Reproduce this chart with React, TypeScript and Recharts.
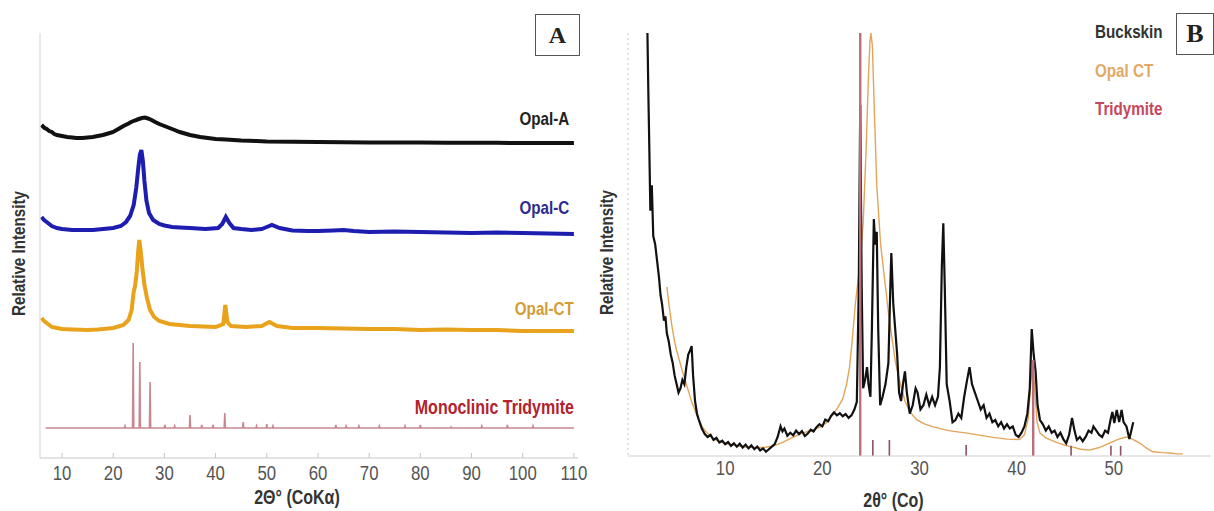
import React from 'react';
import { LineChart, Line, XAxis, YAxis } from 'recharts';

// ---------- Panel A data (2θ°, relative intensity above each pattern's baseline) ----------
const ticksA = [10, 20, 30, 40, 50, 60, 70, 80, 90, 100, 110];
const offsetsA = { opalA: 315, opalC: 225, opalCT: 128, tridymite: 30 };

const opalA: [number, number][] = [
  [6, 18], [6.6, 15], [7, 14], [7.5, 12], [8, 11], [8.5, 9], [9, 8], [10, 7], [11, 6], [12, 5.5], [12.8, 5],
  [14, 5], [15, 5.5], [16, 6], [17, 7], [18, 8], [19, 9.5], [20, 11], [21, 14], [22, 17], [23, 19.5],
  [23.5, 21], [24.2, 22.5], [25, 24], [25.6, 25], [26.2, 25.5], [26.8, 24.5], [27.5, 23], [28.2, 21],
  [29, 19], [30, 17], [31, 15], [32, 13], [33, 11], [34, 9.5], [35, 8], [36, 7], [37, 6], [38.5, 5],
  [40, 4], [42, 3.5], [45, 2.5], [48, 2], [50, 1.5], [55, 1.2], [60, 1], [65, 0.8], [70, 0.5],
  [75, 0.6], [80, 0.5], [85, 0.3], [90, 0.2], [95, 0.2], [100, 0], [105, 0], [110, 0],
];

const opalC: [number, number][] = [
  [6, 16], [6.5, 13], [7, 11], [7.5, 9], [8, 7], [9, 5], [10, 4], [12, 3], [14, 3], [16, 3], [18, 4],
  [20, 5], [21.5, 7], [22.5, 11], [23.3, 17], [24.0, 28], [24.5, 45], [24.9, 65], [25.2, 78],
  [25.5, 83], [25.8, 72], [26.1, 52], [26.5, 32], [27, 20], [27.8, 13], [29, 9], [30, 7.5], [31.5, 6],
  [33, 5.5], [35, 5], [38, 4], [40.5, 5], [41.3, 9], [42, 16], [42.7, 10], [43.5, 5], [45, 4], [47, 3],
  [49, 4], [50, 6], [51, 8], [52.5, 5], [55, 2.5], [58, 2], [60, 2], [63, 2.5], [65, 3], [67, 2],
  [70, 1], [75, 1.5], [80, 1], [85, 0.5], [90, 0], [95, 0.5], [100, 0], [105, -0.5], [110, -1],
];

const opalCT: [number, number][] = [
  [6, 12], [6.5, 9], [7, 7], [7.5, 5], [8, 3], [9, 2], [10, 1], [12, 0.5], [15, 0], [17, 0.5], [20, 2],
  [22, 5], [23, 10], [23.6, 20], [24.0, 38], [24.3, 45], [24.6, 58], [24.9, 80], [25.1, 90],
  [25.35, 80], [25.7, 62], [26.1, 45], [26.6, 32], [27.2, 20], [28, 13], [29, 9], [31, 6], [35, 4],
  [40, 3], [41.5, 6], [41.9, 25], [42.3, 8], [43, 4], [46, 3], [49, 4], [50.5, 8], [52, 4],
  [55, 2], [60, 2], [65, 1.5], [70, 1], [75, 1], [80, 0], [85, 0.5], [90, 0], [95, 0], [100, -1],
  [105, -1], [110, -1],
];

const triARange: [number, number] = [6.8, 110];
const triAPos = [22.3, 23.9, 25.2, 27.2, 30.1, 32.0, 35.0, 37.3, 39.5, 41.8, 45.4, 48.0, 50.0, 51.2,
  63.5, 65.5, 68.0, 72.0, 77.0, 80.0, 86.0, 92.0, 97.0, 102.0];
const triAHeight = [2, 85, 66, 46, 3, 2, 13, 3, 3, 15, 6, 2, 4, 2, 3, 2, 2, 2, 2, 3, 1, 2, 3, 2];

// ---------- Panel B data (2θ°, relative intensity %) ----------
const ticksB = [10, 20, 30, 40, 50];

const buckskin: [number, number][] = [
  [2.0, 100], [2.1, 85], [2.2, 72], [2.3, 58], [2.45, 64], [2.6, 52], [2.8, 50], [3.0, 46], [3.2, 42], [3.35, 38],
  [3.5, 36], [3.7, 32], [3.85, 33], [4.0, 29], [4.2, 27], [4.4, 24], [4.6, 22], [4.8, 19], [5.0, 17],
  [5.2, 15], [5.4, 16], [5.6, 18], [5.8, 17], [6.0, 21], [6.2, 24], [6.4, 25], [6.55, 26], [6.7, 19],
  [6.9, 13], [7.1, 10], [7.3, 8.5], [7.6, 6.5], [7.9, 5.2], [8.2, 4.5], [8.5, 5.0], [8.8, 3.8], [9.1, 4.3],
  [9.4, 3.2], [9.7, 3.6], [10.0, 2.8], [10.3, 3.3], [10.6, 2.4], [10.9, 3.0], [11.2, 2.2], [11.5, 2.9],
  [11.8, 2.0], [12.1, 2.7], [12.4, 1.8], [12.7, 2.5], [13.0, 1.6], [13.3, 2.2], [13.6, 1.3], [13.9, 1.8],
  [14.2, 1.0], [14.5, 1.6], [14.8, 2.2], [15.1, 2.8], [15.4, 4.5], [15.7, 7.0], [15.9, 5.8], [16.1, 6.5],
  [16.4, 4.8], [16.7, 5.5], [17.0, 4.9], [17.3, 6.0], [17.6, 5.2], [17.9, 5.9], [18.2, 4.7], [18.5, 5.3],
  [18.8, 6.2], [19.1, 5.8], [19.4, 6.8], [19.7, 7.5], [20.0, 7.0], [20.3, 8.6], [20.6, 8.2], [20.9, 9.5],
  [21.2, 10.3], [21.5, 9.6], [21.8, 10.1], [22.1, 9.4], [22.4, 9.9], [22.7, 9.0], [23.0, 9.6], [23.3, 11.0],
  [23.55, 12.8], [23.75, 40], [23.9, 83], [24.05, 40], [24.2, 16], [24.4, 18], [24.6, 21], [24.75, 17],
  [24.95, 14], [25.1, 30], [25.3, 56], [25.45, 50], [25.6, 53], [25.75, 30], [25.95, 12], [26.2, 14],
  [26.5, 17], [26.8, 22], [27.0, 40], [27.1, 48], [27.3, 36], [27.5, 30], [27.7, 24], [27.9, 15],
  [28.1, 13], [28.3, 17], [28.5, 20], [28.7, 15], [29.0, 10], [29.3, 12], [29.6, 16], [29.8, 15],
  [30.1, 11], [30.4, 12], [30.7, 14.5], [31.0, 12], [31.3, 14], [31.6, 12], [31.9, 14], [32.1, 21],
  [32.3, 45], [32.45, 55], [32.6, 40], [32.8, 17], [33.1, 13], [33.4, 8], [33.7, 8.5], [34.0, 10],
  [34.3, 9], [34.6, 14], [34.9, 18], [35.15, 21], [35.4, 17], [35.7, 15], [36.0, 13], [36.3, 11],
  [36.6, 12], [36.9, 9], [37.2, 10], [37.5, 8], [37.8, 8.5], [38.1, 7], [38.4, 8], [38.7, 6.5], [39.0, 7.5],
  [39.3, 6.5], [39.6, 7], [39.9, 5], [40.2, 4.5], [40.5, 5.5], [40.8, 7], [41.1, 10], [41.35, 16],
  [41.55, 30], [41.75, 24], [41.95, 20], [42.15, 12], [42.4, 8.5], [42.7, 7.5], [43.0, 6], [43.3, 7],
  [43.6, 5.5], [43.9, 6], [44.2, 4.5], [44.5, 5.5], [44.8, 4], [45.1, 3], [45.4, 5], [45.7, 9],
  [45.95, 6], [46.2, 3.8], [46.5, 4.5], [46.8, 3.5], [47.1, 4.5], [47.4, 6], [47.7, 5.5], [47.9, 7],
  [48.2, 6], [48.5, 5], [48.8, 4.5], [49.1, 6], [49.4, 5.5], [49.7, 9], [49.85, 10.4], [50.05, 7.8],
  [50.3, 10.9], [50.55, 8], [50.8, 10.9], [51.0, 8], [51.3, 7], [51.6, 4], [51.8, 6], [52.0, 8],
];

const opalCTB: [number, number][] = [
  [4.0, 40], [4.2, 36], [4.5, 31], [4.8, 27], [5.0, 25], [5.3, 22.5], [5.6, 20], [6.0, 17], [6.6, 12.5],
  [7.1, 9.5], [7.6, 7], [8.2, 5.3], [9.0, 3.8], [10.0, 3], [11, 2.5], [12, 2.1], [13, 2], [14, 2],
  [15, 2.4], [15.8, 3.1], [16.8, 4.2], [17.7, 5.2], [18.8, 6], [19.8, 6.9], [20.5, 8], [21.1, 9.8],
  [21.6, 11.5], [22.1, 13.5], [22.5, 17], [22.8, 21], [23.1, 28], [23.4, 36], [23.7, 42], [23.9, 46],
  [24.2, 55], [24.5, 72], [24.75, 90], [24.9, 98], [25.0, 100], [25.15, 97], [25.35, 82], [25.6, 64],
  [26.0, 50], [26.4, 42], [26.8, 34], [27.1, 29], [27.5, 22.5], [28.0, 17.3], [28.5, 13], [29.0, 10.5],
  [29.7, 8.6], [30.5, 7.6], [31.4, 6.9], [33, 6], [34.9, 5.4], [36, 5], [37.6, 4.4], [39, 4], [40.3, 3.9],
  [40.8, 5], [41.2, 9], [41.45, 17], [41.65, 22], [41.85, 16], [42.1, 8], [42.4, 5.4], [43, 4.3],
  [44.1, 3.2], [45.0, 2.5], [45.8, 2.1], [46.6, 1.6], [47.5, 1.4], [48.5, 2.0], [49.6, 3.1], [50.5, 4.0],
  [51.3, 4.5], [51.9, 4.0], [52.7, 3.0], [53.4, 1.8], [54, 1.0], [55, 0.8], [55.8, 0.7], [56.5, 0.5],
  [57.1, 0.5],
];

const triBPos = [23.9, 25.2, 26.9, 34.8, 41.7, 45.6, 49.7, 50.7];
const triBHeight = [100, 3.8, 3.8, 2.6, 22.7, 2.4, 2.4, 2.4];

// ---------- helpers ----------
const SANS = "'Liberation Sans', Arial, sans-serif";
const SERIF = "'Liberation Serif', 'DejaVu Serif', serif";
const NARROW_SCALE = 0.8;

const toPts = (pairs: [number, number][], off = 0) => pairs.map(([x, y]) => ({ x, y: y + off }));

const stickLine = (pos: number[], h: number[], range: [number, number], base: number) => {
  const pts: { x: number; y: number }[] = [{ x: range[0], y: base }];
  pos.forEach((p, i) => {
    pts.push({ x: p - 0.12, y: base });
    pts.push({ x: p, y: base + h[i] });
    pts.push({ x: p + 0.12, y: base });
  });
  pts.push({ x: range[1], y: base });
  return pts;
};

const NarrowText = ({ x, y, children, size, weight = 'normal', fill = '#555', rotate = 0 }: any) => (
  <g transform={`translate(${x},${y}) rotate(${rotate}) scale(${NARROW_SCALE},1)`}>
    <text x={0} y={0} textAnchor="middle" dominantBaseline="central" fill={fill} fontSize={size}
      fontWeight={weight} fontFamily={SANS}>{children}</text>
  </g>
);

const TickA = (props: any) => {
  const { x, y, payload } = props;
  return (
    <g>
      <line x1={x} x2={x} y1={y} y2={y - 5} stroke="#c4c4c4" />
      <NarrowText x={x} y={y + 15} size={21}>{payload.value}</NarrowText>
    </g>
  );
};

const TickB = (props: any) => {
  const { x, y, payload } = props;
  return <NarrowText x={x} y={y + 12} size={21}>{payload.value}</NarrowText>;
};

const yLabel = (dx: number) => (props: any) => {
  const vb = props.viewBox;
  return (
    <NarrowText x={vb.x + dx} y={vb.y + vb.height / 2 + 8} size={19} weight="bold" fill="#333" rotate={-90}>
      Relative Intensity
    </NarrowText>
  );
};

const xLabel = (text: string, dx: number, dy: number) => (props: any) => {
  const vb = props.viewBox;
  return (
    <NarrowText x={vb.x + vb.width / 2 + dx} y={vb.y + dy} size={20} weight="bold" fill="#333">{text}</NarrowText>
  );
};

const labelStyle = (color: string, top: number, anchor: 'right' | 'left', pos: number, size = 19): React.CSSProperties => ({
  position: 'absolute', top, [anchor]: pos, color, fontFamily: SANS, fontWeight: 'bold', fontSize: size,
  lineHeight: '20px', whiteSpace: 'nowrap', transform: `scaleX(${NARROW_SCALE})`,
  transformOrigin: anchor === 'right' ? 'right center' : 'left center',
});

export default function App() {
  const dA = toPts(opalA, offsetsA.opalA);
  const dC = toPts(opalC, offsetsA.opalC);
  const dCT = toPts(opalCT, offsetsA.opalCT);
  const dTri = stickLine(triAPos, triAHeight, triARange, offsetsA.tridymite);
  const dBuck = toPts(buckskin);
  const dOpalB = toPts(opalCTB);

  return (
    <div style={{ position: 'absolute', left: 0, top: 0, width: 1214, height: 511, background: '#fff', overflow: 'hidden' }}>
      {/* Panel A */}
      <div style={{ position: 'absolute', left: 0, top: 0, width: 600, height: 511 }}>
        <LineChart width={600} height={511} margin={{ top: 33, right: 22, bottom: 8, left: 0 }}>
          <XAxis type="number" dataKey="x" domain={[5.7, 110.8]} ticks={ticksA} allowDataOverflow height={45}
            tickSize={0} tickMargin={0} tickLine={false} axisLine={{ stroke: '#c8c8c8' }} tick={<TickA />}
            label={{ content: xLabel('2Θ° (CoKα)', -12, 39) }} />
          <YAxis type="number" domain={[0, 425]} width={40} tick={false} tickLine={false}
            axisLine={{ stroke: '#d4d4d4' }} label={{ content: yLabel(18) }} />
          <Line data={dTri} dataKey="y" stroke="#c98890" strokeWidth={1.6} dot={false} isAnimationActive={false} />
          <Line data={dCT} dataKey="y" stroke="#e8a21c" strokeWidth={4} dot={false} isAnimationActive={false} />
          <Line data={dC} dataKey="y" stroke="#1d1db0" strokeWidth={4} dot={false} isAnimationActive={false} />
          <Line data={dA} dataKey="y" stroke="#111" strokeWidth={4} dot={false} isAnimationActive={false} />
        </LineChart>
        <div style={labelStyle('#222', 109, 'right', 31)}>Opal-A</div>
        <div style={labelStyle('#2b2b8e', 198, 'right', 31)}>Opal-C</div>
        <div style={labelStyle('#d39c36', 299, 'right', 26)}>Opal-CT</div>
        <div style={labelStyle('#b3222c', 397, 'right', 26, 20)}>Monoclinic Tridymite</div>
        <div style={{ position: 'absolute', left: 535, top: 14, width: 43, height: 40, border: '1.5px solid #555',
          fontFamily: SERIF, fontWeight: 'bold', fontSize: 24, lineHeight: '40px', textAlign: 'center', color: '#222' }}>A</div>
      </div>

      {/* Panel B */}
      <div style={{ position: 'absolute', left: 580, top: 0, width: 634, height: 511 }}>
        <LineChart width={634} height={511} margin={{ top: 33, right: 3, bottom: 10, left: 20 }}>
          <XAxis type="number" dataKey="x" domain={[0, 60]} ticks={ticksB} allowDataOverflow height={45}
            tickSize={0} tickMargin={0} tickLine={false} axisLine={{ stroke: '#cfcfcf' }} tick={<TickB />}
            label={{ content: xLabel('2θ° (Co)', -26, 44) }} />
          <YAxis type="number" domain={[0, 100]} width={28} tick={false} tickLine={false}
            axisLine={{ stroke: '#c8c8c8', strokeDasharray: '2 3' }} label={{ content: yLabel(6) }} />
          <Line data={dOpalB} dataKey="y" stroke="#e3a45a" strokeWidth={1.4} dot={false} isAnimationActive={false} />
          <Line data={dBuck} dataKey="y" stroke="#111" strokeWidth={2.2} dot={false} isAnimationActive={false} />
          {triBPos.map((p, i) => (
            <Line key={p} data={[{ x: p, y: 0 }, { x: p, y: triBHeight[i] }]} dataKey="y"
              stroke={i === 0 || i === 4 ? '#b9707c' : '#8c5060'} strokeWidth={i === 0 || i === 4 ? 2.4 : 1.6}
              dot={false} isAnimationActive={false} />
          ))}
        </LineChart>
        <div style={labelStyle('#333', 22, 'left', 515)}>Buckskin</div>
        <div style={labelStyle('#e2a865', 61, 'left', 515)}>Opal CT</div>
        <div style={labelStyle('#c4485e', 99, 'left', 515)}>Tridymite</div>
        <div style={{ position: 'absolute', left: 596, top: 13, width: 36, height: 40, border: '1.5px solid #555',
          fontFamily: SERIF, fontWeight: 'bold', fontSize: 26, lineHeight: '40px', textAlign: 'center', color: '#222' }}>B</div>
      </div>
    </div>
  );
}
